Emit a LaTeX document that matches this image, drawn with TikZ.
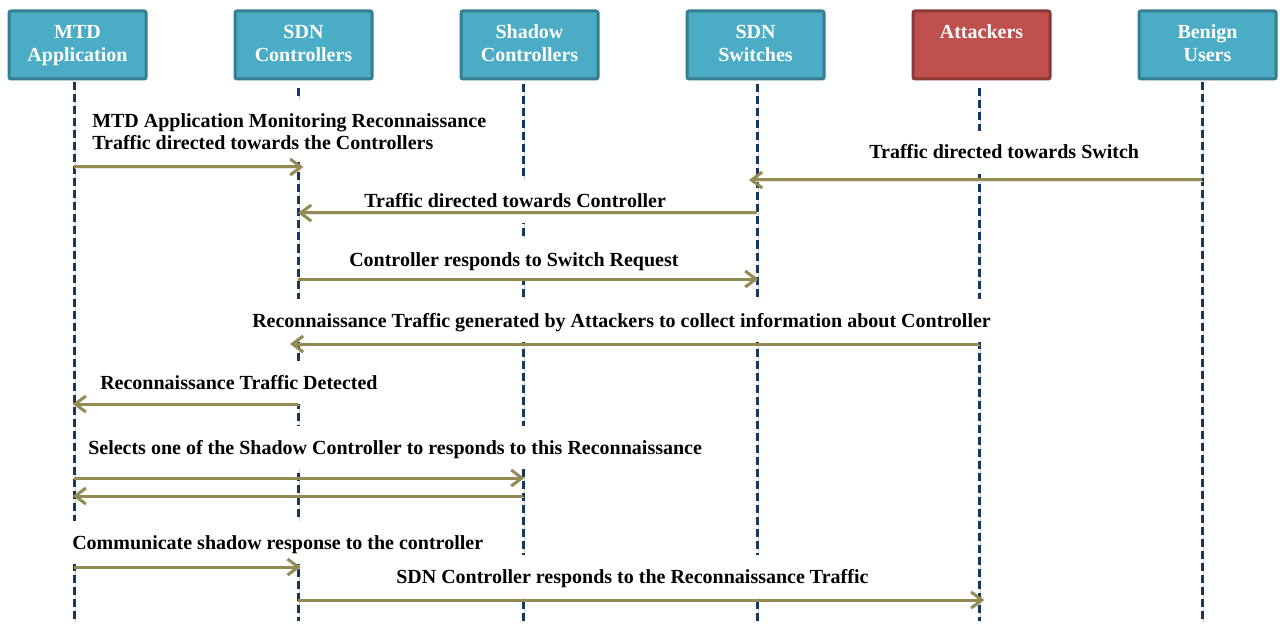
\documentclass[tikz,border=0pt]{standalone}
\usepackage{fontspec}
\setmainfont{Liberation Serif}
\usetikzlibrary{arrows.meta,shadows}

\definecolor{boxfill}{HTML}{4BACC6}
\definecolor{boxline}{HTML}{357D91}
\definecolor{attfill}{HTML}{C0504D}
\definecolor{attline}{HTML}{8C3836}
\definecolor{lifec}{HTML}{17375E}
\definecolor{msgc}{HTML}{948A54}

\tikzset{
  actor/.style={rectangle, rounded corners=1.5pt, draw=boxline, fill=boxfill,
    line width=2.25pt, minimum width=102.75pt, minimum height=51pt,
    text=white, align=center, inner sep=0pt,
    font=\bfseries\fontsize{15}{17.25}\selectfont,
    drop shadow={opacity=0.2, shadow xshift=0.8pt, shadow yshift=-0.8pt}},
  attacker/.style={actor, draw=attline, fill=attfill},
  life/.style={draw=lifec, line width=2.25pt, dash pattern=on 6pt off 3pt,
    preaction={draw=black!20, transform canvas={shift={(0.9pt,-0.5pt)}}}},
  msg/.style={draw=msgc, line width=2.25pt, -{Straight Barb[length=8pt,width=12pt]},
    preaction={draw=black!10, transform canvas={shift={(0.5pt,-1pt)}}}},
  lbl/.style={fill=white, inner xsep=7.5pt, inner ysep=10.5pt,
    text height=10.5pt, text depth=0.75pt, anchor=base west,
    font=\bfseries\fontsize{15}{16.5}\selectfont},
  lbltwo/.style={fill=white, inner xsep=7.5pt, inner ysep=9.75pt,
    align=left, anchor=north west,
    font=\bfseries\fontsize{15}{16.5}\selectfont},
}

\begin{document}
\begin{tikzpicture}[x=0.75pt, y=-0.75pt]
  \useasboundingbox (0,0) rectangle (1280,627);
  \fill[white] (0,0) rectangle (1280,627);

  % participants (struts keep the two text lines at the same height in every box)
  \node[actor]    (mtd) at (77.5,45)   {MTD\strut\\Application\strut};
  \node[actor]    (sdn) at (303.5,45)  {SDN\strut\\Controllers\strut};
  \node[actor]    (shd) at (529.5,45)  {Shadow\strut\\Controllers\strut};
  \node[actor]    (sw)  at (755.5,45)  {SDN\strut\\Switches\strut};
  \node[attacker] (att) at (981.5,45)  {Attackers\strut\\\strut};
  \node[actor]    (ben) at (1207.5,45) {Benign\strut\\Users\strut};

  % lifeline ends
  \coordinate (mtdE) at (74,621);
  \coordinate (sdnE) at (298,621);
  \coordinate (shdE) at (523,621);
  \coordinate (swE)  at (757,621);
  \coordinate (attE) at (979,621);
  \coordinate (benE) at (1202,621);

  % lifelines
  \draw[life, shorten <=1.5pt] (mtd.south -| mtdE) -- (mtdE);
  \draw[life, shorten <=6pt]   (sdn.south -| sdnE) -- (sdnE);
  \draw[life, shorten <=3pt]   (shd.south -| shdE) -- (shdE);
  \draw[life, shorten <=3pt]   (sw.south -| swE)   -- (swE);
  \draw[life, shorten <=6pt]   (att.south -| attE) -- (attE);
  \draw[life, shorten <=1.5pt] (ben.south -| benE) -- (benE);

  % message labels
  \node[lbltwo] (t1) at (82,100) {MTD Application Monitoring Reconnaissance\\Traffic directed towards the Controllers};
  \node[lbl] (t2) at (859,159) {Traffic directed towards Switch};
  \node[lbl] (t3) at (354,208) {Traffic directed towards Controller};
  \node[lbl] (t4) at (339,266) {Controller responds to Switch Request};
  \node[lbl] (t5) at (242,327) {Reconnaissance Traffic generated by Attackers to collect information about Controller};
  \node[lbl] (t6) at (90,389)  {Reconnaissance Traffic Detected};
  \node[lbl] (t7) at (78,454)  {Selects one of the Shadow Controller to responds to this Reconnaissance};
  \node[lbl] (t8) at (62,549)  {Communicate shadow response to the controller};
  \node[lbl] (t9) at (386,583) {SDN Controller responds to the Reconnaissance Traffic};

  % message rows
  \coordinate (r1)  at (0,167);
  \coordinate (r2)  at (0,180);
  \coordinate (r3)  at (0,213);
  \coordinate (r4)  at (0,279);
  \coordinate (r5)  at (0,344);
  \coordinate (r6)  at (0,404);
  \coordinate (r7)  at (0,478);
  \coordinate (r8)  at (0,496);
  \coordinate (r9)  at (0,567);
  \coordinate (r10) at (0,600);

  % messages
  \draw[msg, shorten >=-4pt] (mtdE |- r1)  -- (sdnE |- r1);
  \draw[msg, shorten >=-6pt] (benE |- r2)  -- (swE |- r2);
  \draw[msg]                 (swE |- r3)   -- (sdnE |- r3);
  \draw[msg, shorten >=-1pt] (sdnE |- r4)  -- (swE |- r4);
  \draw[msg, shorten >=-6pt] (attE |- r5)  -- (sdnE |- r5);
  \draw[msg, shorten >=-1pt] (sdnE |- r6)  -- (mtdE |- r6);
  \draw[msg, shorten >=-1pt] (mtdE |- r7)  -- (shdE |- r7);
  \draw[msg, shorten >=-1pt] (shdE |- r8)  -- (mtdE |- r8);
  \draw[msg, shorten >=-2pt] (mtdE |- r9)  -- (sdnE |- r9);
  \draw[msg, shorten >=-4pt] (sdnE |- r10) -- (attE |- r10);
\end{tikzpicture}
\end{document}
